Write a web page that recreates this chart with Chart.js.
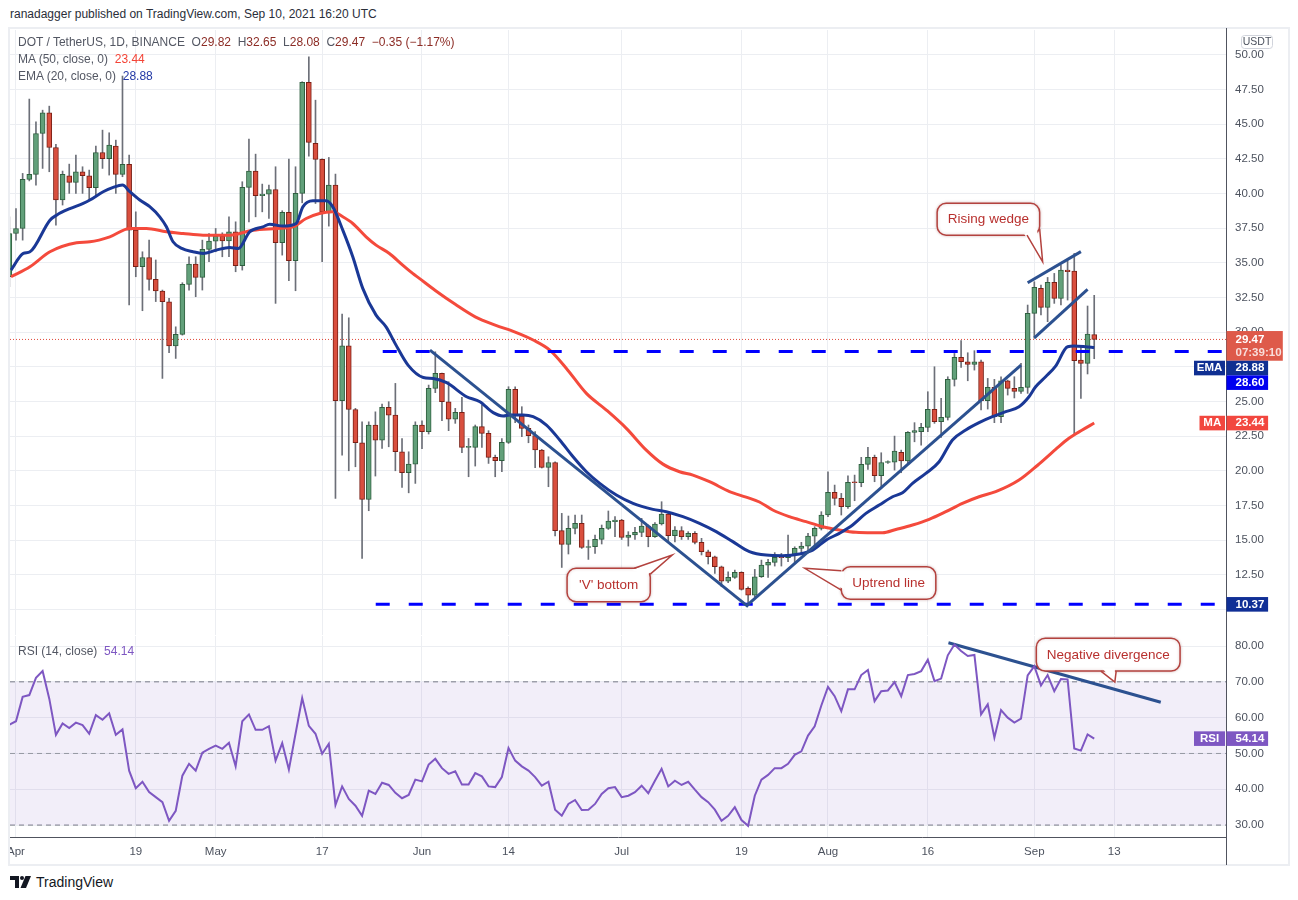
<!DOCTYPE html>
<html lang="en">
<head>
<meta charset="UTF-8">
<title>DOT / TetherUS, 1D</title>
<script src="https://cdn.jsdelivr.net/npm/chart.js"></script>
<style>
  body { margin: 0; background: #fff; font-family: "Liberation Sans", Arial, sans-serif; }
  #page { position: relative; width: 1298px; height: 900px; overflow: hidden; }
  .pub { position: absolute; left: 10px; top: 7px; font-size: 12px; color: #2a2e39; }
  .frame { position: absolute; left: 8px; top: 27px; width: 1282px; height: 839px; box-sizing: border-box; border: 2px solid #eceef2; }
  .axisline { position: absolute; left: 1226px; top: 28px; width: 1px; height: 837px; background: #50535e; }
  canvas { position: absolute; left: 10px; }
  #mainChart { top: 30px; }
  #rsiChart { top: 636px; }
  .legend { position: absolute; left: 18px; font-size: 12px; color: #535763; white-space: pre; z-index: 2; }
  .ohlc { color: #8c2c25; }
  .ma { color: #f44336; }
  .ema { color: #2238a5; }
  .rsi { color: #7e57c2; }
  .logo { position: absolute; left: 10px; top: 874px; font-size: 14px; color: #131722; display: flex; align-items: center; gap: 5px; }
</style>
</head>
<body>
<div id="page">
  <div class="pub">ranadagger published on TradingView.com, Sep 10, 2021 16:20 UTC</div>
  <div class="frame"></div>
  <div class="axisline"></div>
  <canvas id="mainChart" width="1278" height="605" style="width:1278px;height:605px"></canvas>
  <canvas id="rsiChart" width="1278" height="229" style="width:1278px;height:229px"></canvas>

  <div class="legend" style="top:35px">DOT / TetherUS, 1D, BINANCE  O<span class="ohlc">29.82</span>  H<span class="ohlc">32.65</span>  L<span class="ohlc">28.08</span>  C<span class="ohlc">29.47</span>  <span class="ohlc">−0.35 (−1.17%)</span></div>
  <div class="legend" style="top:52px">MA (50, close, 0)  <span class="ma">23.44</span></div>
  <div class="legend" style="top:69px">EMA (20, close, 0)  <span class="ema">28.88</span></div>
  <div class="legend" style="top:644px">RSI (14, close)  <span class="rsi">54.14</span></div>

  <div class="logo">
    <svg width="21" height="12" viewBox="0 0 21 12">
      <path d="M0 0 H9 V12 H5 V4 H0 Z" fill="#131722"/>
      <circle cx="12" cy="2" r="2" fill="#131722"/>
      <path d="M15.5 0 H21 L16 12 H10.5 Z" fill="#131722"/>
    </svg>
    <span>TradingView</span>
  </div>
</div>

<script>
// day 0 = Apr 1 2021; first candle is Mar 31
const firstDay = -1;

const opens = [
  33.99, 37.11, 37.47, 41.01, 41.37, 44.32, 45.81, 43.31, 39.52, 41.27,
  40.79, 41.56, 41.27, 40.41, 42.95, 42.50, 43.41, 41.37, 42.09, 37.35,
  34.71, 35.38, 33.80, 32.96, 32.19, 29.00, 29.83, 33.44, 34.90, 33.94,
  35.96, 36.56, 36.92, 36.58, 37.23, 34.78, 40.43, 41.61, 39.83, 39.95,
  40.28, 36.44, 38.63, 35.14, 40.00, 48.00, 43.60, 42.45, 38.67, 40.60,
  25.05, 29.00, 24.42, 22.02, 17.93, 23.29, 22.21, 24.57, 24.01, 21.37,
  19.86, 20.48, 23.30, 22.82, 25.94, 27.02, 24.98, 23.73, 24.21, 21.69,
  21.69, 23.18, 22.70, 20.97, 20.73, 22.05, 25.87, 23.95, 23.06, 22.53,
  21.50, 20.24, 20.60, 15.68, 14.69, 15.85, 16.21, 14.47, 14.52, 15.05,
  15.85, 16.33, 16.45, 15.20, 15.37, 15.56, 16.02, 15.25, 16.16, 16.88,
  15.32, 15.68, 15.25, 15.49, 14.84, 14.16, 13.80, 13.08, 12.05, 12.31,
  12.67, 11.52, 11.04, 12.36, 13.20, 13.40, 13.80, 13.73, 13.97, 14.40,
  14.57, 15.29, 15.85, 16.81, 18.44, 18.01, 17.41, 19.16, 19.14, 20.46,
  20.97, 19.64, 20.60, 20.62, 21.33, 20.72, 22.77, 22.82, 23.13, 24.43,
  23.54, 23.85, 26.59, 28.18, 27.86, 27.67, 27.86, 25.05, 26.01, 23.90,
  26.49, 25.94, 25.72, 26.01, 31.35, 33.15, 31.78, 33.58, 32.43, 34.47,
  34.40, 27.98, 27.74, 29.82
];
const highs = [
  38.31, 38.90, 41.44, 46.80, 45.16, 46.00, 46.29, 43.53, 41.61, 42.11,
  42.76, 41.92, 41.68, 43.41, 44.56, 44.37, 43.84, 48.46, 42.76, 38.67,
  35.79, 36.63, 35.20, 33.03, 32.43, 30.38, 33.56, 35.43, 35.43, 36.63,
  37.11, 37.47, 37.16, 38.31, 37.95, 40.84, 43.91, 42.83, 40.67, 40.60,
  41.92, 38.75, 42.47, 41.92, 48.05, 49.85, 46.72, 42.50, 42.59, 41.39,
  31.30, 31.03, 24.50, 23.53, 23.53, 24.25, 24.81, 24.98, 26.30, 22.33,
  21.37, 23.53, 23.60, 26.18, 28.58, 27.05, 26.42, 24.50, 25.29, 22.33,
  23.30, 24.74, 22.89, 21.13, 22.33, 26.06, 26.06, 24.62, 23.30, 22.82,
  21.54, 21.01, 20.65, 16.93, 16.74, 16.81, 16.81, 15.00, 15.37, 16.09,
  17.10, 16.69, 16.50, 15.61, 15.92, 16.57, 16.09, 16.26, 17.77, 16.93,
  15.97, 15.97, 15.61, 15.61, 15.13, 14.28, 13.85, 13.13, 12.72, 12.84,
  12.72, 11.64, 12.89, 13.56, 13.61, 14.10, 14.04, 15.37, 14.52, 14.84,
  15.49, 15.97, 17.05, 19.93, 18.97, 18.37, 19.64, 19.69, 20.97, 21.69,
  21.13, 21.30, 20.72, 22.50, 21.49, 22.82, 23.47, 23.42, 25.70, 27.50,
  25.22, 26.78, 28.46, 29.38, 28.51, 28.66, 27.98, 26.66, 26.59, 26.78,
  26.54, 26.78, 27.74, 31.95, 33.63, 33.39, 33.94, 34.23, 34.83, 35.15,
  35.67, 28.90, 31.88, 32.65
];
const lows = [
  33.27, 36.63, 36.63, 40.90, 40.60, 41.80, 41.56, 37.71, 39.16, 40.00,
  40.00, 40.00, 39.52, 39.76, 41.80, 41.32, 40.00, 41.20, 31.95, 33.99,
  31.54, 33.03, 32.20, 26.66, 28.51, 28.10, 29.78, 33.03, 32.55, 33.03,
  35.07, 35.79, 35.43, 35.43, 34.35, 34.47, 37.95, 38.31, 38.67, 38.19,
  32.07, 35.55, 33.70, 32.98, 39.32, 42.69, 39.27, 35.07, 37.64, 18.01,
  21.13, 20.00, 20.29, 13.68, 17.12, 19.62, 21.61, 21.73, 20.00, 18.80,
  18.41, 19.09, 21.60, 22.65, 25.63, 23.61, 22.89, 23.42, 21.30, 19.57,
  20.34, 21.69, 20.53, 19.57, 19.93, 21.97, 23.47, 22.46, 22.02, 20.22,
  20.20, 18.85, 15.30, 13.03, 14.00, 15.44, 14.40, 13.61, 14.04, 14.72,
  15.77, 15.25, 15.05, 14.57, 15.05, 15.25, 14.52, 15.20, 16.09, 14.96,
  14.88, 15.05, 15.05, 14.72, 13.93, 13.28, 12.60, 11.64, 11.93, 12.24,
  11.40, 10.37, 10.92, 12.31, 12.31, 13.13, 13.13, 13.44, 13.37, 14.00,
  14.16, 14.57, 15.73, 16.69, 17.53, 16.81, 17.29, 17.84, 18.85, 20.10,
  19.21, 18.73, 20.53, 20.05, 19.86, 20.58, 22.09, 21.85, 22.82, 23.42,
  22.41, 23.66, 26.11, 27.45, 26.49, 27.26, 24.38, 24.45, 23.47, 23.47,
  25.46, 25.25, 25.58, 25.58, 29.55, 31.23, 30.75, 32.07, 31.95, 32.31,
  22.65, 25.22, 26.98, 28.08
];
const closes = [
  37.11, 37.47, 41.01, 41.37, 44.32, 45.81, 43.31, 39.52, 41.37, 40.79,
  41.56, 41.27, 40.41, 42.95, 42.50, 43.48, 41.37, 42.09, 37.35, 34.71,
  35.38, 33.80, 32.96, 32.19, 29.00, 29.83, 33.44, 34.90, 33.94, 35.96,
  36.56, 36.92, 36.58, 37.23, 34.78, 40.43, 41.61, 39.83, 39.95, 40.28,
  36.44, 38.63, 35.14, 40.00, 48.00, 43.67, 42.45, 38.67, 40.60, 25.05,
  29.00, 24.42, 22.02, 17.93, 23.29, 22.21, 24.57, 24.01, 21.37, 19.86,
  20.48, 23.30, 22.82, 25.94, 27.02, 24.98, 23.73, 24.21, 21.69, 21.72,
  23.18, 22.70, 20.97, 20.73, 22.05, 25.87, 23.95, 23.06, 22.53, 21.50,
  20.24, 20.60, 15.68, 14.69, 15.85, 16.21, 14.47, 14.52, 15.05, 15.85,
  16.38, 16.45, 15.20, 15.37, 15.56, 16.02, 15.25, 16.16, 16.88, 15.32,
  15.73, 15.25, 15.49, 14.84, 14.16, 13.80, 13.08, 12.05, 12.31, 12.67,
  11.45, 11.04, 12.36, 13.20, 13.40, 13.76, 13.73, 13.97, 14.40, 14.57,
  15.29, 15.85, 16.81, 18.44, 18.01, 17.41, 19.16, 19.14, 20.46, 20.97,
  19.64, 20.60, 20.62, 21.42, 20.72, 22.77, 22.89, 23.13, 24.43, 23.54,
  23.85, 26.59, 28.18, 27.86, 27.67, 27.86, 25.05, 26.01, 23.90, 26.49,
  25.94, 25.72, 26.01, 31.35, 33.22, 31.78, 33.58, 32.43, 34.47, 34.35,
  27.94, 27.74, 29.86, 29.47
];
const rsiValues = [
  58.0, 59.0, 65.8, 66.3, 71.1, 73.0, 65.3, 55.2, 58.4, 57.1,
  58.6, 57.9, 55.5, 60.7, 59.4, 61.2, 55.2, 56.7, 45.2, 40.3,
  42.1, 39.2, 37.8, 36.4, 31.2, 34.0, 43.8, 47.1, 45.2, 50.2,
  51.3, 52.2, 51.3, 53.0, 46.4, 59.0, 60.9, 56.6, 56.6, 57.6,
  48.0, 52.9, 45.5, 55.5, 65.5, 57.7, 55.5, 49.9, 52.7, 35.6,
  40.8, 37.3, 35.4, 32.6, 39.6, 38.7, 41.8, 41.2, 39.0, 37.5,
  38.4, 42.7, 42.2, 46.9, 48.5, 45.9, 44.3, 45.0, 41.3, 41.3,
  44.5, 43.6, 40.8, 40.6, 43.4, 51.5, 48.0, 46.4, 45.2, 43.4,
  41.0, 42.1, 34.3, 32.6, 35.9, 37.0, 34.2, 34.3, 35.9, 38.7,
  40.3, 40.6, 37.8, 38.2, 39.2, 41.0, 38.9, 42.4, 45.7, 40.8,
  42.4, 41.2, 42.1, 39.9, 37.8, 36.4, 34.3, 31.2, 32.6, 35.0,
  31.4, 29.8, 38.2, 42.7, 44.0, 45.9, 45.9, 47.1, 49.6, 50.6,
  55.0, 57.6, 63.4, 68.6, 66.0, 61.8, 67.9, 67.9, 71.9, 73.3,
  64.6, 67.4, 67.6, 69.9, 66.0, 71.9, 72.2, 73.0, 76.2, 70.2,
  70.9, 77.4, 80.4, 78.6, 77.2, 77.5, 60.9, 63.7, 54.4, 62.1,
  60.0, 58.6, 59.7, 71.8, 74.4, 69.0, 71.9, 67.4, 70.8, 70.7,
  51.4, 50.8, 55.3, 54.14
];

// moving averages (day, value)
const emaDays = [
  -0.75, 1.1, 2.1, 5.1, 6.1, 8.1, 10.1, 11.1, 13.1, 14.6, 16, 17.1, 18.6, 20.1, 21.6, 22.6,
  23.6, 24.9, 26.6, 28.1, 30.1, 32.1, 33.4, 35.1, 37.1, 38.1, 40.1, 42.1, 43.1, 44.6, 46.6,
  47.6, 49.1, 50.6, 52.1, 54.1, 55.6, 57.1, 58.9, 61.2, 62.7, 64.7, 67.7, 69.7, 71.7, 73.2,
  74.2, 76.2, 77.7, 79.7, 81.7, 83.7, 85.7, 87.7, 90.2, 92.7, 95.7, 97.7, 100.2, 102.7,
  105.2, 107.7, 110.2, 112.7, 115.2, 117.7, 119.7, 121.7, 123.7, 125.7, 127.7, 129.7,
  131.7, 133.2, 134.7, 136.7, 138.7, 140.7, 142.7, 144.7, 146.7, 148.7, 150.7, 152.2,
  153.2, 154.7, 156.2, 158.0, 159.0, 160.7, 162
];
const emaValues = [
  34.47, 35.67, 35.79, 38.07, 38.43, 38.90, 39.28, 39.52, 40.12, 40.43, 40.60, 40.12, 39.52, 39.04, 38.31, 37.59,
  36.51, 36.03, 35.79, 35.67, 35.91, 36.10, 36.03, 37.23, 37.59, 37.78, 37.64, 37.83, 39.03, 39.47, 39.47,
  39.03, 37.35, 35.43, 33.15, 31.22, 30.38, 29.06, 27.62, 26.73, 26.66, 26.35, 25.34, 24.98, 24.19, 23.95,
  24.02, 24.02, 23.90, 23.30, 22.22, 21.01, 19.93, 19.09, 18.25, 17.65, 17.22, 17.05, 16.69, 16.21,
  15.61, 14.89, 14.17, 13.92, 13.88, 14.00, 14.28, 15.00, 15.49, 16.09, 16.93, 17.53,
  18.13, 18.42, 19.09, 19.81, 20.65, 22.22, 22.94, 23.47, 23.90, 24.26, 24.62, 25.34,
  26.06, 26.78, 27.55, 28.94, 28.99, 28.94, 28.88
];
const maDays = [
  -0.75, 2.1, 5.1, 9.1, 11.1, 14.1, 17.1, 19.6, 22.6, 25.1, 28.1, 32.1, 35.6, 39.1, 41.6,
  43.6, 45.6, 47.6, 49.1, 50.6, 52.6, 54.1, 56.1, 58.1, 59.6, 60.6, 63, 66, 69, 72, 75,
  77.7, 80.2, 82.7, 85.7, 88.7, 91.7, 94.7, 97.2, 99.7, 101.7, 104.2, 107.2, 109.7, 111.7,
  113.7, 116.2, 118.7, 121.2, 123.7, 126.2, 128.7, 130.2, 132.2, 134.7, 137.2, 139.7,
  142.2, 144.7, 147.2, 150.7, 153.5, 156.2, 158.2, 160.2, 162
];
const maValues = [
  33.99, 34.71, 35.79, 36.44, 36.51, 36.87, 37.47, 37.47, 37.23, 37.11, 36.99, 36.99, 37.35, 37.47, 37.59,
  38.19, 38.55, 38.67, 38.31, 37.83, 36.87, 36.27, 35.67, 34.83, 34.23, 33.87, 33.00, 32.00, 31.10, 30.50, 30.00,
  29.43, 28.70, 27.38, 25.58, 24.38, 23.06, 21.49, 20.48, 19.93, 19.69, 19.21, 18.50, 18.10, 17.75,
  17.17, 16.69, 16.33, 15.97, 15.73, 15.56, 15.53, 15.53, 15.77, 16.09, 16.50, 17.05,
  17.65, 18.13, 18.49, 19.33, 20.40, 21.54, 22.34, 22.94, 23.44
];

// drawn levels and trend lines (day, price)
const supportLevel = 10.37;
const resistanceLevel = 28.60;
const vLeftLine = [[62.2, 28.7], [110.0, 10.2]];
const uptrendLine = [[109.7, 10.25], [151.0, 27.62]];
const wedgeUpper = [[152.0, 33.56], [160.0, 35.8]];
const wedgeLower = [[153.0, 29.59], [161.0, 33.08]];
const rsiDivergence = [[140.1, 80.9], [172.0, 64.3]];

// axis ticks
const dayTicks = [0, 18, 30, 46, 61, 74, 91, 109, 122, 137, 153, 165];
const dayTickLabels = ['Apr', '19', 'May', '17', 'Jun', '14', 'Jul', '19', 'Aug', '16', 'Sep', '13'];
const priceTicks = [10, 12.5, 15, 17.5, 20, 22.5, 25, 27.5, 30, 32.5, 35, 37.5, 40, 42.5, 45, 47.5, 50];
const rsiTicks = [30, 40, 50, 60, 70, 80];

// text notes: box [day from, day to, top, bottom], pointer base points and tip
const priceNotes = [
  { text: "'V' bottom", box: [82.8, 95.3, 12.97, 10.56], base: [[92.9, 12.97], [95.3, 12.55]], tip: [98.6, 13.92] },
  { text: 'Uptrend line', box: [124.0, 138.2, 13.08, 10.73], base: [[124.0, 12.80], [124.0, 11.40]], tip: [118.5, 12.97] },
  { text: 'Rising wedge', box: [138.4, 153.8, 39.28, 36.99], base: [[151.9, 36.99], [153.8, 37.45]], tip: [154.25, 35.07] }
];
const rsiNotes = [
  { text: 'Negative divergence', box: [153.3, 174.9, 82.2, 73.0], base: [[163.0, 73.0], [165.3, 73.0]], tip: [165.1, 69.9] }
];

const xMin = -0.9, xMax = 181.8;
const FONT = '"Liberation Sans", Arial, sans-serif';
Chart.defaults.font.family = FONT;
Chart.defaults.animation = false;

const days = closes.map((_, i) => firstDay + i);
const isUp = i => closes[i] >= opens[i];
const pts = arr => arr.map(p => ({ x: p[0], y: p[1] }));
const level = v => [{ x: xMin, y: v }, { x: xMax, y: v }];

function xAxis(showLabels) {
  return {
    type: 'linear', min: xMin, max: xMax, offset: false,
    afterBuildTicks: s => { s.ticks = dayTicks.map(v => ({ value: v })); },
    grid: { color: '#eceef2', drawTicks: false, offset: false },
    border: { display: true, color: '#50535e' },
    ticks: {
      display: showLabels, autoSkip: false, maxRotation: 0, padding: 8,
      color: '#4c525e', font: { size: 11.5 },
      callback: (v, i) => dayTickLabels[i]
    },
    afterFit: s => { s.height = showLabels ? 28 : 0; s.paddingLeft = 0; s.paddingRight = 0; }
  };
}

function yAxis(min, max, tickValues, hideLabel) {
  return {
    position: 'right', min: min, max: max,
    afterBuildTicks: s => { s.ticks = tickValues.map(v => ({ value: v })); },
    grid: { color: '#eceef2', drawTicks: false },
    border: { display: true, color: '#50535e' },
    ticks: {
      padding: 9, color: '#4c525e', font: { size: 11.5 },
      callback: v => (hideLabel && hideLabel.includes(v)) ? '' : v.toFixed(2)
    },
    afterFit: s => { s.width = 62; s.paddingTop = 0; s.paddingBottom = 0; }
  };
}

function drawNote(ctx, xs, ys, n) {
  const x1 = xs.getPixelForValue(n.box[0]), x2 = xs.getPixelForValue(n.box[1]);
  const y1 = ys.getPixelForValue(n.box[2]), y2 = ys.getPixelForValue(n.box[3]);
  const cx = (x1 + x2) / 2, cy = (y1 + y2) / 2;
  const a = [xs.getPixelForValue(n.base[0][0]), ys.getPixelForValue(n.base[0][1])];
  const b = [xs.getPixelForValue(n.base[1][0]), ys.getPixelForValue(n.base[1][1])];
  const t = [xs.getPixelForValue(n.tip[0]), ys.getPixelForValue(n.tip[1])];
  const inset = p => {
    const dx = cx - p[0], dy = cy - p[1], d = Math.hypot(dx, dy);
    return [p[0] + dx / d * 3, p[1] + dy / d * 3];
  };
  ctx.save();
  ctx.lineWidth = 1.5;
  ctx.strokeStyle = '#b3423e';
  ctx.fillStyle = '#fff';
  ctx.shadowColor = 'rgba(120,30,30,0.25)';
  ctx.shadowBlur = 3;
  ctx.beginPath();
  ctx.roundRect(x1, y1, x2 - x1, y2 - y1, 9);
  ctx.fill();
  ctx.stroke();
  ctx.shadowColor = 'transparent';
  const ai = inset(a), bi = inset(b);
  ctx.beginPath();
  ctx.moveTo(ai[0], ai[1]); ctx.lineTo(t[0], t[1]); ctx.lineTo(bi[0], bi[1]); ctx.closePath();
  ctx.fill();
  ctx.beginPath();
  ctx.moveTo(a[0], a[1]); ctx.lineTo(t[0], t[1]); ctx.lineTo(b[0], b[1]);
  ctx.stroke();
  ctx.fillStyle = '#b8302e';
  ctx.font = '13.5px ' + FONT;
  ctx.textAlign = 'center';
  ctx.textBaseline = 'middle';
  ctx.fillText(n.text, cx, cy + 0.5);
  ctx.restore();
}

// coloured value boxes on the price axis, pushed down when they would overlap
function drawTags(ctx, area, ys, tags) {
  let prevBottom = -Infinity;
  ctx.save();
  ctx.textBaseline = 'middle';
  tags.forEach(t => {
    const h = t.sub ? 29.7 : 14.6;
    const top = Math.max(ys.getPixelForValue(t.value) - (t.sub ? 8.4 : 7.3), prevBottom);
    const left = area.right + 0.5;
    const w = t.sub ? 56.3 : 41.6;
    ctx.fillStyle = t.color;
    ctx.fillRect(left, top, w, h);
    ctx.fillStyle = '#fff';
    ctx.font = 'bold 11.5px ' + FONT;
    ctx.textAlign = 'left';
    ctx.fillText(t.value.toFixed(2), left + 9, top + (t.sub ? 9 : 7.5));
    if (t.sub) {
      ctx.fillStyle = 'rgba(255,255,255,0.8)';
      ctx.fillText(t.sub, left + 9, top + 21.7);
    }
    if (t.label) {
      const lw = t.label.length > 2 ? 31 : 25.5;
      ctx.fillStyle = t.color;
      ctx.fillRect(area.right - 1 - lw, top, lw, h);
      ctx.fillStyle = '#fff';
      ctx.textAlign = 'center';
      ctx.fillText(t.label, area.right - 1 - lw / 2, top + 7.5);
    }
    prevBottom = top + h;
  });
  ctx.restore();
}

const mainOverlay = {
  id: 'mainOverlay',
  afterDraw(chart) {
    const { ctx, chartArea, scales: { x, y } } = chart;
    priceNotes.forEach(n => drawNote(ctx, x, y, n));
    drawTags(ctx, chartArea, y, [
      { value: closes[closes.length - 1], sub: '07:39:10', color: '#de5a4a' },
      { value: emaValues[emaValues.length - 1], label: 'EMA', color: '#0f2f92' },
      { value: resistanceLevel, color: '#0000f0' },
      { value: maValues[maValues.length - 1], label: 'MA', color: '#f2473f' },
      { value: supportLevel, color: '#102f96' }
    ]);
    // currency badge
    ctx.save();
    ctx.fillStyle = '#fff';
    ctx.strokeStyle = '#d1d4dc';
    ctx.lineWidth = 1;
    ctx.beginPath();
    ctx.roundRect(chartArea.right + 15.5, 5.5, 31, 13, 3);
    ctx.fill(); ctx.stroke();
    ctx.fillStyle = '#4c525e';
    ctx.font = '10.5px ' + FONT;
    ctx.textAlign = 'center';
    ctx.textBaseline = 'middle';
    ctx.fillText('USDT', chartArea.right + 31, 12.5);
    ctx.restore();
  }
};

const rsiOverlay = {
  id: 'rsiOverlay',
  afterDraw(chart) {
    const { ctx, chartArea, scales: { x, y } } = chart;
    rsiNotes.forEach(n => drawNote(ctx, x, y, n));
    drawTags(ctx, chartArea, y, [
      { value: rsiValues[rsiValues.length - 1], label: 'RSI', color: '#7e57c2' }
    ]);
  }
};

const candleUp = '#62a07a', candleUpLine = '#2f5f3f';
const candleDown = '#d94f3e', candleDownLine = '#7b2016';
const trendColor = '#2c5190';
const levelColor = '#0000ff';

new Chart(document.getElementById('mainChart'), {
  type: 'bar',
  data: {
    datasets: [
      {
        type: 'line', data: pts(vLeftLine), borderColor: trendColor, borderWidth: 3, pointRadius: 0, order: 1
      },
      {
        type: 'line', data: pts(uptrendLine), borderColor: trendColor, borderWidth: 3, pointRadius: 0, order: 1
      },
      {
        type: 'line', data: pts(wedgeUpper), borderColor: trendColor, borderWidth: 3, pointRadius: 0, order: 1
      },
      {
        type: 'line', data: pts(wedgeLower), borderColor: trendColor, borderWidth: 3, pointRadius: 0, order: 1
      },
      {
        type: 'line', data: [{ x: 55.1, y: resistanceLevel }, { x: xMax, y: resistanceLevel }],
        borderColor: levelColor, borderWidth: 3, borderDash: [14, 19], pointRadius: 0, order: 3
      },
      {
        type: 'line', data: [{ x: 54.05, y: supportLevel }, { x: xMax, y: supportLevel }],
        borderColor: levelColor, borderWidth: 3, borderDash: [14, 19], pointRadius: 0, order: 3
      },
      {
        type: 'line', data: emaDays.map((d, i) => ({ x: d, y: emaValues[i] })),
        borderColor: '#1a3896', borderWidth: 3, pointRadius: 0, cubicInterpolationMode: 'monotone', order: 4
      },
      {
        type: 'line', data: maDays.map((d, i) => ({ x: d, y: maValues[i] })),
        borderColor: '#f44a3c', borderWidth: 3, pointRadius: 0, cubicInterpolationMode: 'monotone', order: 5
      },
      {
        type: 'bar', data: days.map((d, i) => ({ x: d, y: [opens[i], closes[i]] })),
        barThickness: 5, grouped: false, borderWidth: 1, borderSkipped: false, minBarLength: 1,
        backgroundColor: c => isUp(c.dataIndex) ? candleUp : candleDown,
        borderColor: c => isUp(c.dataIndex) ? candleUpLine : candleDownLine,
        order: 10
      },
      {
        type: 'bar', data: days.map((d, i) => ({ x: d, y: [lows[i], highs[i]] })),
        barThickness: 1, grouped: false, borderWidth: 0, backgroundColor: '#6c6f78', order: 11
      },
      {
        type: 'line', data: level(closes[closes.length - 1]),
        borderColor: '#e0483a', borderWidth: 1, borderDash: [1, 2], pointRadius: 0, order: 12
      }
    ]
  },
  options: {
    responsive: false,
    events: [],
    layout: { padding: 0 },
    plugins: { legend: { display: false }, tooltip: { enabled: false } },
    scales: {
      x: xAxis(false),
      y: yAxis(8.16, 51.78, priceTicks, [10])
    }
  },
  plugins: [mainOverlay]
});

new Chart(document.getElementById('rsiChart'), {
  type: 'line',
  data: {
    datasets: [
      {
        data: days.map((d, i) => ({ x: d, y: rsiValues[i] })),
        borderColor: '#7e57c2', borderWidth: 2, pointRadius: 0, order: 0
      },
      {
        data: pts(rsiDivergence), borderColor: trendColor, borderWidth: 3, pointRadius: 0, order: 0
      },
      {
        data: level(70), borderColor: '#787b86', borderWidth: 1, borderDash: [5, 4], pointRadius: 0,
        fill: '+1', backgroundColor: 'rgba(126,87,194,0.1)', order: 3
      },
      {
        data: level(30), borderColor: '#787b86', borderWidth: 1, borderDash: [5, 4], pointRadius: 0, order: 3
      },
      {
        data: level(50), borderColor: '#9598a1', borderWidth: 1, borderDash: [5, 4], pointRadius: 0, order: 2
      }
    ]
  },
  options: {
    responsive: false,
    events: [],
    layout: { padding: 0 },
    plugins: { legend: { display: false }, tooltip: { enabled: false } },
    scales: {
      x: xAxis(true),
      y: yAxis(26.67, 82.8, rsiTicks)
    }
  },
  plugins: [rsiOverlay]
});
</script>
</body>
</html>
